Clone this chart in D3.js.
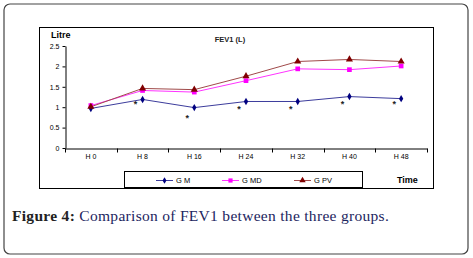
<!DOCTYPE html>
<html>
<head>
<meta charset="utf-8">
<script src="https://cdn.jsdelivr.net/npm/d3@7"></script>
<style>
  body { margin: 0; background: #fff; }
  svg { display: block; }
</style>
</head>
<body>
<svg id="chart" width="473" height="258"></svg>
<script>
// Categories (time points) and series values
const times = ["H 0", "H 8", "H 16", "H 24", "H 32", "H 40", "H 48"];
const gM  = [0.97, 1.19, 0.99, 1.14, 1.14, 1.26, 1.21];
const gMD = [1.04, 1.41, 1.37, 1.65, 1.94, 1.92, 2.01];
const gPV = [1.01, 1.46, 1.43, 1.76, 2.12, 2.17, 2.12];
// significance markers drawn under the points
const starValues = [null, 1.1, 0.76, 0.98, 0.98, 1.1, 1.1];
const yTicks = [0, 0.5, 1, 1.5, 2, 2.5];

const series = [
  { name: "G M",  values: gM,  color: "#000080", line: "#3c3c9c", shape: d3.symbolDiamond, size: 16 },
  { name: "G MD", values: gMD, color: "#ff00ff", line: "#ff33ff", shape: d3.symbolSquare,  size: 22 },
  { name: "G PV", values: gPV, color: "#800000", line: "#a04a4a", shape: d3.symbolTriangle, size: 22 }
];

const svg = d3.select("#chart");
const font = "'Liberation Sans', Arial, sans-serif";

// outer rounded frame
svg.append("rect")
  .attr("x", 4).attr("y", 4)
  .attr("width", 464).attr("height", 250)
  .attr("rx", 6)
  .attr("fill", "#fff")
  .attr("stroke", "#444")
  .attr("stroke-width", 1.2);

// chart area box
svg.append("rect")
  .attr("x", 39.5).attr("y", 27.5)
  .attr("width", 394).attr("height", 161)
  .attr("fill", "#fff")
  .attr("stroke", "#000")
  .attr("stroke-width", 1);

// scales
const x = d3.scaleBand().domain(times).range([65, 427]);
const y = d3.scaleLinear().domain([0, 2.5]).range([148, 46]);
const cx = d => x(d) + x.bandwidth() / 2;

// y axis
const yAxis = svg.append("g")
  .attr("transform", "translate(65.5,0)")
  .call(d3.axisLeft(y).tickValues(yTicks).tickSize(3).tickSizeOuter(0).tickFormat(d3.format("")));
yAxis.select(".domain").attr("stroke", "#000");
yAxis.selectAll(".tick line").attr("stroke", "#000");
yAxis.selectAll(".tick text")
  .attr("x", -6)
  .attr("font-family", font)
  .attr("font-size", 7)
  .attr("fill", "#000");

// x axis
const xAxis = svg.append("g")
  .attr("transform", "translate(0,148.5)")
  .call(d3.axisBottom(x).tickSize(0).tickSizeOuter(0));
xAxis.select(".domain").attr("stroke", "#000");
xAxis.selectAll(".tick text")
  .attr("y", 6)
  .attr("font-family", font)
  .attr("font-size", 7)
  .attr("fill", "#000");
// ticks between categories
const edges = times.map(t => x(t)).concat([x.range()[1]]);
xAxis.selectAll(".edge")
  .data(edges)
  .enter().append("line")
  .attr("class", "edge")
  .attr("x1", d => Math.round(d) + 0.5)
  .attr("x2", d => Math.round(d) + 0.5)
  .attr("y1", 0)
  .attr("y2", 4)
  .attr("stroke", "#000");

// title and axis labels
svg.append("text")
  .attr("x", 230).attr("y", 42)
  .attr("text-anchor", "middle")
  .attr("font-family", font)
  .attr("font-size", 7.5)
  .attr("font-weight", "bold")
  .attr("fill", "#222")
  .text("FEV1 (L)");

svg.append("text")
  .attr("x", 51).attr("y", 38)
  .attr("font-family", font)
  .attr("font-size", 9)
  .attr("font-weight", "bold")
  .attr("fill", "#000")
  .text("Litre");

svg.append("text")
  .attr("x", 397).attr("y", 183)
  .attr("font-family", font)
  .attr("font-size", 9)
  .attr("font-weight", "bold")
  .attr("fill", "#000")
  .text("Time");

// lines and markers
const line = d3.line()
  .x((d, i) => cx(times[i]))
  .y(d => y(d));

series.forEach(s => {
  svg.append("path")
    .datum(s.values)
    .attr("fill", "none")
    .attr("stroke", s.line)
    .attr("stroke-width", 1)
    .attr("d", line);
});

series.forEach(s => {
  svg.append("g")
    .selectAll("path")
    .data(s.values)
    .enter().append("path")
    .attr("transform", (d, i) => `translate(${cx(times[i])},${y(d)})`)
    .attr("d", d3.symbol().type(s.shape).size(s.size))
    .attr("fill", s.color);
});

// significance stars
svg.append("g")
  .selectAll("text")
  .data(starValues.map((v, i) => ({ v, t: times[i] })).filter(d => d.v !== null))
  .enter().append("text")
  .attr("x", d => cx(d.t) - 7)
  .attr("y", d => y(d.v) + 4)
  .attr("text-anchor", "middle")
  .attr("font-family", font)
  .attr("font-size", 9)
  .attr("font-weight", "bold")
  .attr("fill", "#222")
  .text("*");

// legend
svg.append("rect")
  .attr("x", 124.5).attr("y", 171.5)
  .attr("width", 238).attr("height", 16)
  .attr("fill", "#fff")
  .attr("stroke", "#000");

const legendX = [156, 222, 294];
const legend = svg.append("g")
  .selectAll("g")
  .data(series)
  .enter().append("g")
  .attr("transform", (d, i) => `translate(${legendX[i]},180)`);

legend.append("line")
  .attr("x1", 0).attr("x2", 17)
  .attr("y1", 0.5).attr("y2", 0.5)
  .attr("stroke", d => d.line);

legend.append("path")
  .attr("transform", "translate(8.5,0.5)")
  .attr("d", d => d3.symbol().type(d.shape).size(d.size * 0.8)())
  .attr("fill", d => d.color);

legend.append("text")
  .attr("x", 20).attr("y", 3)
  .attr("font-family", font)
  .attr("font-size", 7.5)
  .attr("fill", "#000")
  .text(d => d.name);

// caption
const caption = svg.append("text")
  .attr("x", 12).attr("y", 221)
  .attr("font-family", "'Liberation Serif', 'DejaVu Serif', serif")
  .attr("font-size", 15.5)
  .attr("letter-spacing", 0.3);
caption.append("tspan")
  .attr("font-weight", "bold")
  .attr("fill", "#222")
  .text("Figure 4:");
caption.append("tspan")
  .attr("fill", "#1c2560")
  .text(" Comparison of FEV1 between the three groups.");
</script>
</body>
</html>
